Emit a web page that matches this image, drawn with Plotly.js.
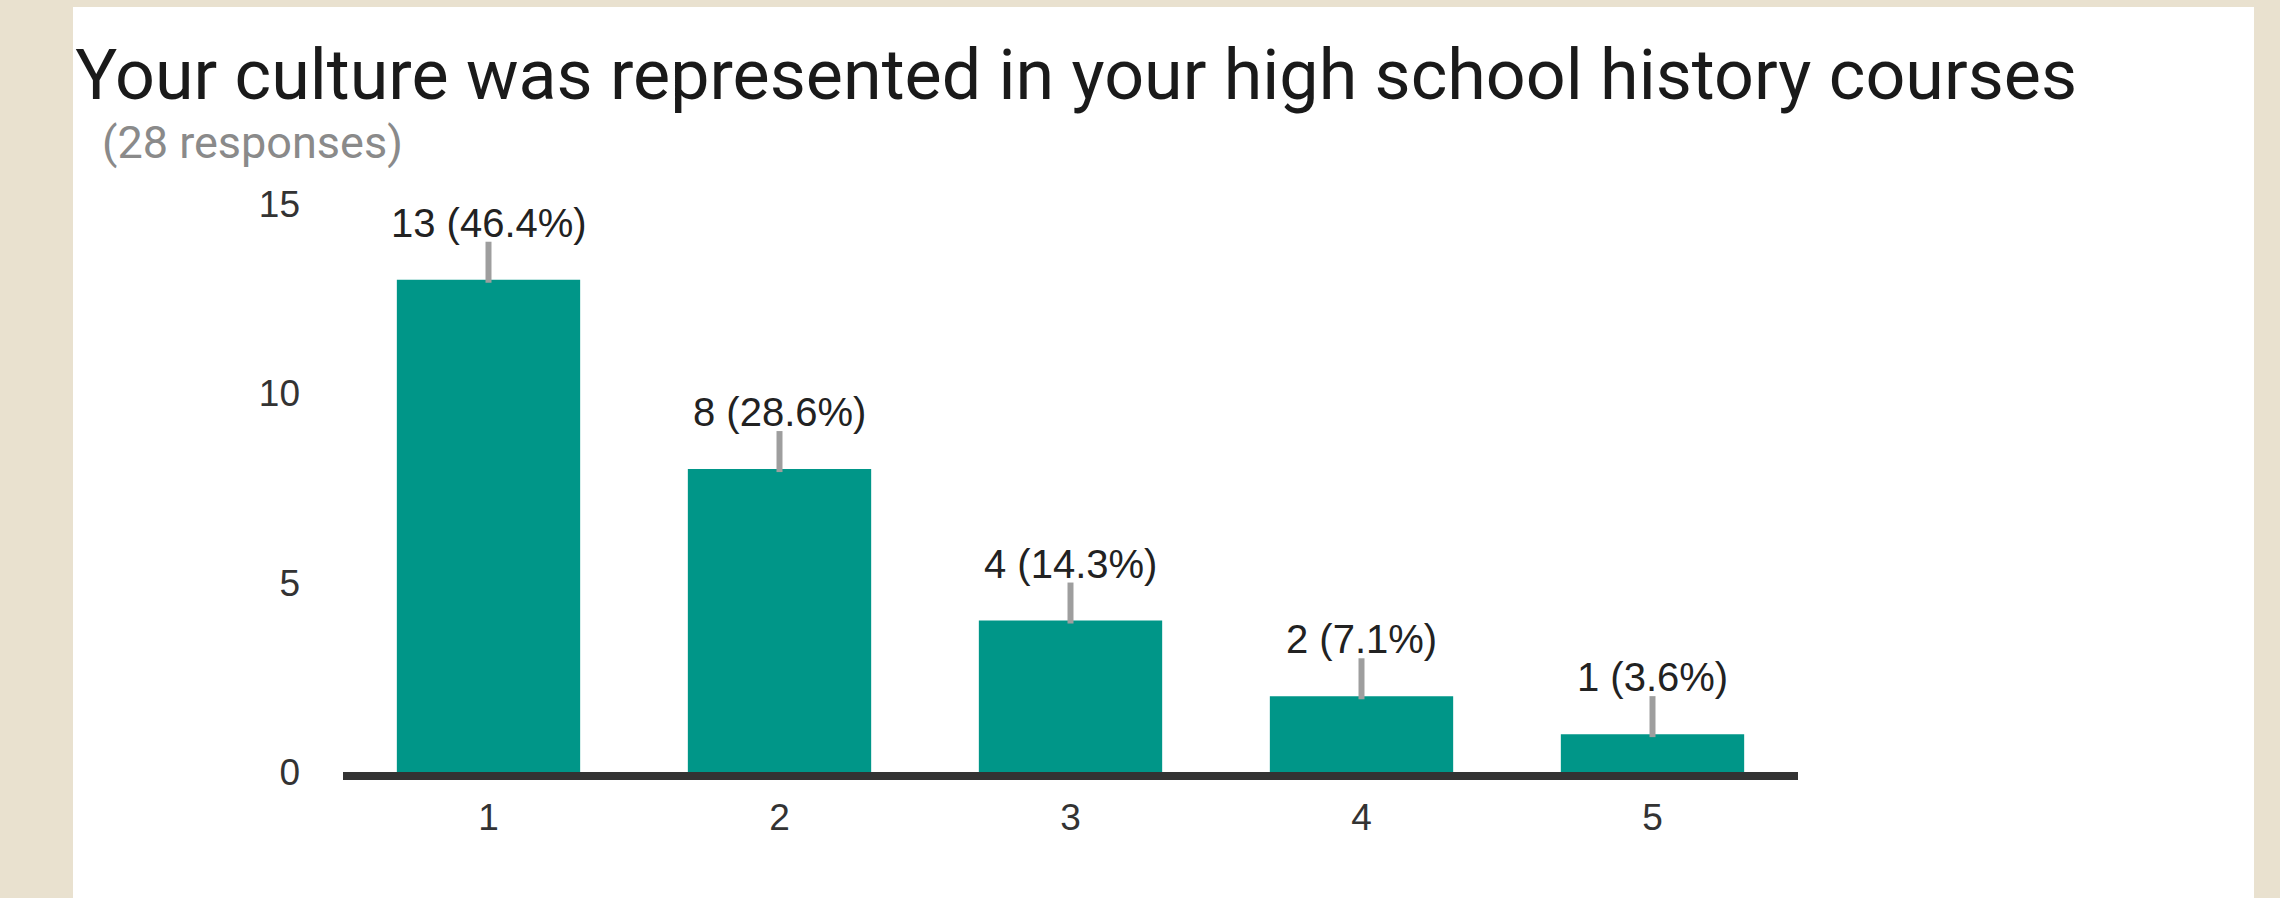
<!DOCTYPE html>
<html>
<head>
<meta charset="utf-8">
<script src="https://cdn.plot.ly/plotly-3.0.1.min.js"></script>
<style>
  html, body { margin: 0; padding: 0; background: #e9e1cf; width: 2280px; height: 898px; overflow: hidden; }
  #chart { position: absolute; left: 73px; top: 7px; width: 2181px; height: 891px; background: #ffffff; }
</style>
</head>
<body>
<div id="chart"></div>
<script>
// ---- data ----
const chartTitle = "Your culture was represented in your high school history courses";
const subtitleText = "(28 responses)";
const categories = [1, 2, 3, 4, 5];
const categoryLabels = ["1", "2", "3", "4", "5"];
const counts = [13, 8, 4, 2, 1];
const percents = [46.4, 28.6, 14.3, 7.1, 3.6];
const yTickValues = [0, 5, 10, 15];

const barColor = "#009688";
const labelTexts = counts.map((c, i) => c + " (" + percents[i].toFixed(1) + "%)");

const trace = {
  type: "bar",
  x: categories,
  y: counts,
  marker: { color: barColor },
  hoverinfo: "none"
};

const annotations = categories.map((c, i) => ({
  x: c, y: counts[i], xref: "x", yref: "y",
  text: labelTexts[i],
  showarrow: false,
  yshift: 57,
  xanchor: "center", yanchor: "middle",
  font: { family: "Liberation Sans, Arial, sans-serif", size: 40, color: "#222222" }
}));

annotations.push({
  xref: "paper", yref: "paper",
  x: -0.167, y: 1.109,
  xanchor: "left", yanchor: "middle",
  text: subtitleText,
  showarrow: false,
  font: { family: "Roboto, sans-serif", size: 45, color: "#8a8a8a" }
});

const shapes = categories.map((c, i) => ({
  type: "line",
  xref: "x", yref: "y",
  ysizemode: "pixel",
  yanchor: counts[i],
  x0: c, x1: c,
  y0: -3, y1: 38,
  line: { color: "#9e9e9e", width: 6 }
}));

const layout = {
  width: 2181,
  height: 891,
  paper_bgcolor: "#ffffff",
  plot_bgcolor: "#ffffff",
  margin: { l: 270, r: 456, t: 197, b: 126, pad: 0 },
  title: {
    text: chartTitle,
    xref: "container", yref: "container",
    x: 0.001, xanchor: "left",
    y: 0.924, yanchor: "middle",
    pad: { l: 0, r: 0, t: 0, b: 0 },
    font: { family: "Roboto, sans-serif", size: 70, color: "#1a1a1a" }
  },
  showlegend: false,
  bargap: 0.37,
  xaxis: {
    type: "linear",
    range: [0.5, 5.5],
    tickvals: categories,
    ticktext: categoryLabels,
    showgrid: false,
    zeroline: false,
    showline: true,
    linecolor: "#333333",
    linewidth: 8,
    ticks: "",
    ticklabelstandoff: 6,
    tickfont: { family: "Liberation Sans, Arial, sans-serif", size: 37, color: "#333333" }
  },
  yaxis: {
    range: [0, 15],
    tickvals: yTickValues,
    ticktext: yTickValues.map(String),
    showgrid: false,
    zeroline: false,
    showline: false,
    ticks: "",
    ticklabelstandoff: 42,
    tickfont: { family: "Liberation Sans, Arial, sans-serif", size: 37, color: "#333333" }
  },
  annotations: annotations,
  shapes: shapes
};

Plotly.newPlot("chart", [trace], layout, { displayModeBar: false, staticPlot: true });
</script>
</body>
</html>
